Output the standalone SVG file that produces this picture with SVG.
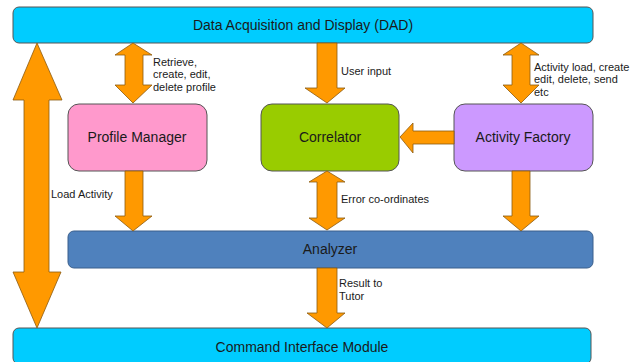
<svg xmlns="http://www.w3.org/2000/svg" width="630" height="362" viewBox="0 0 630 362">
<style>
.arr{fill:#ff9900;stroke:#8c5a10;stroke-width:0.8;stroke-linejoin:miter}
.box{stroke:#555555;stroke-width:1}
.t{font-family:"Liberation Sans",Arial,sans-serif;font-size:14px;fill:#1a1a1a;text-anchor:middle;dominant-baseline:central}
.s{font-family:"Liberation Sans",Arial,sans-serif;font-size:11px;fill:#1a1a1a;dominant-baseline:central}
</style>
<rect width="630" height="362" fill="#ffffff"/>
<g id="dad"><rect class="box" x="13" y="7" width="580" height="36" rx="6" fill="#00ccff"/><text class="t" x="303" y="25">Data Acquisition and Display (DAD)</text></g>
<g id="profile-manager"><rect class="box" x="68" y="104" width="139" height="67" rx="11" fill="#ff99cc"/><text class="t" x="137" y="137">Profile Manager</text></g>
<g id="correlator"><rect class="box" x="261" y="104" width="138" height="67" rx="11" fill="#99cc00"/><text class="t" x="330" y="137">Correlator</text></g>
<g id="activity-factory"><rect class="box" x="454" y="104" width="139" height="67" rx="11" fill="#cc99ff"/><text class="t" x="523" y="137">Activity Factory</text></g>
<g id="analyzer"><rect x="68" y="231" width="525" height="37" rx="6" fill="#4f81bd" stroke="#3a5f8c" stroke-width="1"/><text class="t" x="330" y="249">Analyzer</text></g>
<g id="cim"><rect class="box" x="13" y="328" width="578" height="36" rx="6" fill="#00ccff"/><text class="t" x="302" y="347">Command Interface Module</text></g>
<g id="connectors">
<polygon class="arr" points="37,43 62,100 49,100 49,272 61,272 37,328 13,272 24,272 24,100 13,100"/>
<polygon class="arr" points="133,43 152,55 143,55 143,85 152,85 133,103 115,85 125,85 125,55 115,55"/>
<polygon class="arr" points="317,43 337,43 337,88 345,88 327,103 305,88 317,88"/>
<polygon class="arr" points="521,43 539,55 530,55 530,85 539,85 521,103 503,85 512,85 512,55 503,55"/>
<polygon class="arr" points="400,137 413,123 413,131 454,131 454,144 413,144 413,153"/>
<polygon class="arr" points="327,171 345,182 337,182 337,218 345,218 327,230 309,218 317,218 317,182 309,182"/>
<polygon class="arr" points="125,171 143,171 143,216 152,216 133,231 115,216 125,216"/>
<polygon class="arr" points="512,171 530,171 530,216 539,216 521,231 503,216 512,216"/>
<polygon class="arr" points="317,268 337,268 337,313 345,313 327,328 307,313 317,313"/>
<text class="s" x="153" y="62">Retrieve,</text>
<text class="s" x="153" y="74">create, edit,</text>
<text class="s" x="153" y="87">delete profile</text>
<text class="s" x="341" y="71">User input</text>
<text class="s" x="534" y="67">Activity load, create</text>
<text class="s" x="534" y="79">edit, delete, send</text>
<text class="s" x="534" y="92">etc</text>
<text class="s" x="51" y="194">Load Activity</text>
<text class="s" x="341" y="199">Error co-ordinates</text>
<text class="s" x="339" y="283">Result to</text>
<text class="s" x="339" y="296">Tutor</text>
</g>
</svg>
